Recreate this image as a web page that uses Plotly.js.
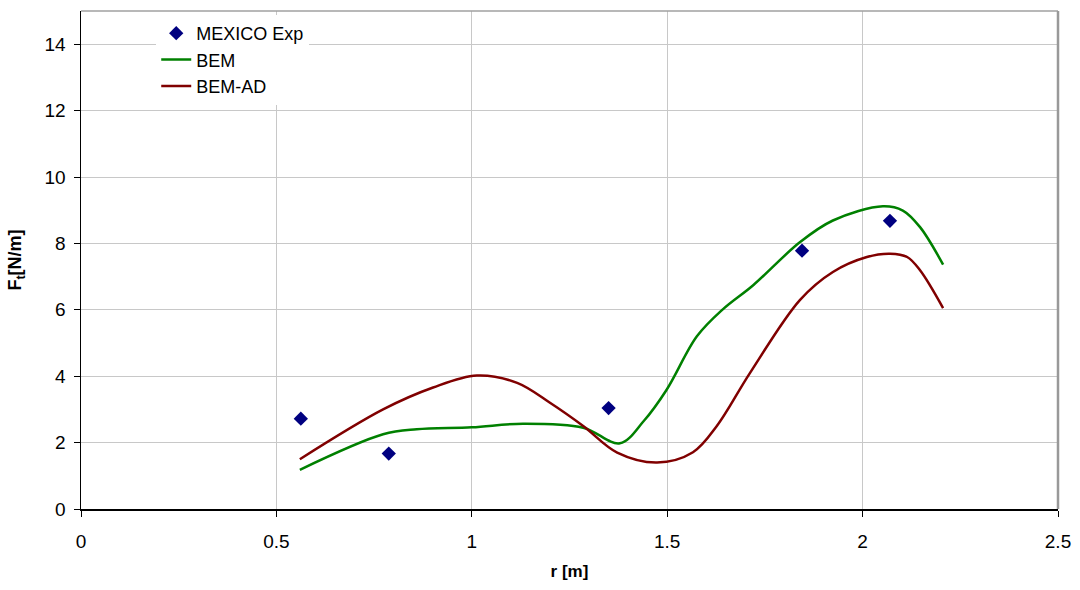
<!DOCTYPE html>
<html>
<head>
<meta charset="utf-8">
<script src="https://cdn.plot.ly/plotly-3.0.1.min.js"></script>
<style>
  html, body { margin: 0; padding: 0; background: #ffffff; }
  #chart { width: 1080px; height: 590px; }
</style>
</head>
<body>
<div id="chart"></div>
<script>
// Measured tangential force at the MEXICO pressure stations
const expR = [0.5625, 0.7875, 1.35, 1.845, 2.07];
const expFt = [2.72, 1.67, 3.04, 7.78, 8.68];

// BEM prediction
const bemR = [0.560, 0.773, 0.859, 1.000, 1.131, 1.285, 1.379, 1.440, 1.499, 1.576, 1.643, 1.720, 1.840, 1.924, 2.052, 2.103, 2.147, 2.206];
const bemFt = [1.18, 2.25, 2.40, 2.46, 2.57, 2.45, 1.98, 2.65, 3.60, 5.20, 6.02, 6.74, 8.04, 8.69, 9.12, 8.99, 8.49, 7.36];

// BEM with actuator-disc correction
const bemAdR = [0.560, 0.773, 0.901, 1.013, 1.116, 1.200, 1.285, 1.372, 1.474, 1.566, 1.627, 1.712, 1.840, 1.924, 2.011, 2.070, 2.114, 2.147, 2.206];
const bemAdFt = [1.50, 3.00, 3.66, 4.02, 3.80, 3.20, 2.50, 1.70, 1.40, 1.71, 2.50, 4.10, 6.30, 7.14, 7.59, 7.69, 7.59, 7.19, 6.05];

const xTicks = [0, 0.5, 1, 1.5, 2, 2.5];
const yTicks = [0, 2, 4, 6, 8, 10, 12, 14];

const FONT = '"Liberation Sans", Arial, sans-serif';

const traces = [
  {
    x: expR, y: expFt, name: 'MEXICO Exp', type: 'scatter', mode: 'markers',
    marker: { symbol: 'diamond', size: 11, color: '#000080' }
  },
  {
    x: bemR, y: bemFt, name: 'BEM', type: 'scatter', mode: 'lines',
    line: { color: '#008000', width: 2.5, shape: 'spline', smoothing: 1.0 }
  },
  {
    x: bemAdR, y: bemAdFt, name: 'BEM-AD', type: 'scatter', mode: 'lines',
    line: { color: '#800000', width: 2.5, shape: 'spline', smoothing: 1.0 }
  }
];

const layout = {
  width: 1080, height: 590,
  margin: { l: 81, r: 22, t: 11, b: 81 },
  paper_bgcolor: '#ffffff', plot_bgcolor: '#ffffff',
  font: { family: FONT, size: 18, color: '#000000' },
  showlegend: true,
  legend: {
    x: 0.077, y: 0.992, xanchor: 'left', yanchor: 'top',
    bgcolor: '#ffffff', borderwidth: 0,
    font: { family: FONT, size: 18, color: '#000000' },
    tracegroupgap: 0
  },
  xaxis: {
    range: [0, 2.5], tickvals: xTicks, ticktext: xTicks.map(String),
    showgrid: true, gridcolor: '#c8c8c8', gridwidth: 1,
    zeroline: false, showline: true, linecolor: '#000000', linewidth: 1.5,
    ticks: 'outside', ticklen: 6, tickcolor: '#000000',
    ticklabelstandoff: 9,
    tickfont: { family: FONT, size: 19 },
    title: { text: '<b>r [m]</b>', font: { family: FONT, size: 17 }, standoff: 14 }
  },
  yaxis: {
    range: [0, 15], tickvals: yTicks, ticktext: yTicks.map(String),
    showgrid: true, gridcolor: '#c8c8c8', gridwidth: 1,
    zeroline: false, showline: true, linecolor: '#000000', linewidth: 1.5,
    ticks: 'outside', ticklen: 6, tickcolor: '#000000',
    ticklabelstandoff: 4,
    tickfont: { family: FONT, size: 19 },
    title: { text: '<b>F<sub>t</sub>[N/m]</b>', font: { family: FONT, size: 18 }, standoff: 18 }
  },
  shapes: [
    { type: 'line', xref: 'paper', yref: 'paper', x0: 0, x1: 1, y0: 1, y1: 1,
      line: { color: '#a0a0a0', width: 1.5 } },
    { type: 'line', xref: 'paper', yref: 'paper', x0: 1, x1: 1, y0: 0, y1: 1,
      line: { color: '#999999', width: 2.5 } }
  ]
};

Plotly.newPlot('chart', traces, layout, { displayModeBar: false, staticPlot: true });
</script>
</body>
</html>
